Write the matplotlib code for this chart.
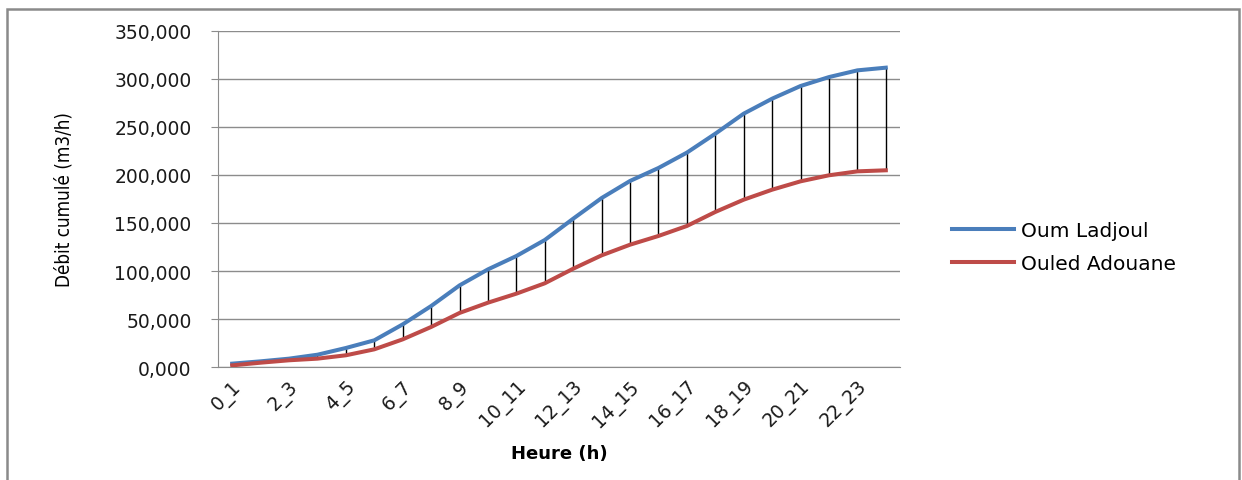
"""Cumulative flow per hour for two sites, with high-low drop lines."""

import matplotlib
matplotlib.use("Agg")
import matplotlib.pyplot as plt
from matplotlib.patches import Rectangle
from matplotlib.ticker import FuncFormatter, MultipleLocator

hours = ["0_1", "1_2", "2_3", "3_4", "4_5", "5_6", "6_7", "7_8", "8_9", "9_10",
         "10_11", "11_12", "12_13", "13_14", "14_15", "15_16", "16_17", "17_18",
         "18_19", "19_20", "20_21", "21_22", "22_23", "23_24"]
oum_ladjoul = [3.5, 5.9, 8.7, 12.8, 19.8, 27.8, 44.4, 63.5, 85.0, 101.7, 115.6, 132.3,
               154.5, 176.0, 193.8, 207.3, 223.3, 243.0, 263.9, 279.5, 292.7, 302.0,
               309.0, 311.8]
ouled_adouane = [1.7, 4.5, 7.0, 8.7, 12.2, 18.4, 28.8, 41.7, 56.3, 67.0, 76.4, 87.2,
                 102.4, 116.3, 127.4, 136.5, 146.9, 161.5, 174.3, 184.7, 193.4, 199.7,
                 203.8, 204.9]

BLUE = "#4a7ebb"
RED = "#be4b48"
GRID = "#8c8c8c"

fig = plt.figure(figsize=(12.42, 4.81), dpi=100)
ax = fig.add_axes([218 / 1242, 1 - 368 / 481, 682 / 1242, 336 / 481])

x = list(range(len(hours)))
ax.vlines(x, ouled_adouane, oum_ladjoul, color="black", linewidth=1.0, zorder=2)
ax.plot(x, oum_ladjoul, color=BLUE, linewidth=2.9, label="Oum Ladjoul", zorder=3,
        solid_joinstyle="round")
ax.plot(x, ouled_adouane, color=RED, linewidth=2.9, label="Ouled Adouane", zorder=3,
        solid_joinstyle="round")

ax.set_xlim(-0.5, len(hours) - 0.5)
ax.set_ylim(0, 350)
ax.yaxis.set_major_locator(MultipleLocator(50))
ax.yaxis.set_major_formatter(FuncFormatter(lambda v, _: f"{v:.3f}".replace(".", ",")))
ax.grid(axis="y", color=GRID, linewidth=1.0)
ax.set_axisbelow(True)

for side in ("top", "right"):
    ax.spines[side].set_visible(False)
ax.spines["left"].set_color(GRID)
ax.spines["bottom"].set_color(GRID)

ax.set_xticks(x[::2])
ax.set_xticklabels(hours[::2], rotation=45, ha="right", rotation_mode="anchor",
                   fontsize=13.5, color="#1a1a1a")
ax.tick_params(axis="x", length=0, pad=7)
ax.tick_params(axis="y", length=5, color=GRID, pad=14, labelsize=13.5,
               labelcolor="#1a1a1a")

ax.set_xlabel("Heure (h)", fontsize=13, fontweight="bold", labelpad=10)
ax.set_ylabel("Débit cumulé (m3/h)", fontsize=13.5, fontstretch="condensed",
              family=["DejaVu Sans"], color="black")
ax.yaxis.set_label_coords(-0.212, 0.5)

ax.legend(loc="center left", bbox_to_anchor=(952 / 1242, 1 - 248 / 481),
          bbox_transform=fig.transFigure, frameon=False, fontsize=14.5,
          handlelength=3.1, handletextpad=0.35, labelspacing=0.7,
          borderpad=0, borderaxespad=0)

fig.add_artist(Rectangle((7 / 1242, -0.1), 1232 / 1242, 1.1 - 9.5 / 481,
                         transform=fig.transFigure, fill=False,
                         edgecolor="#8a8a8a", linewidth=1.8))

fig.savefig("out.png", dpi=100)
